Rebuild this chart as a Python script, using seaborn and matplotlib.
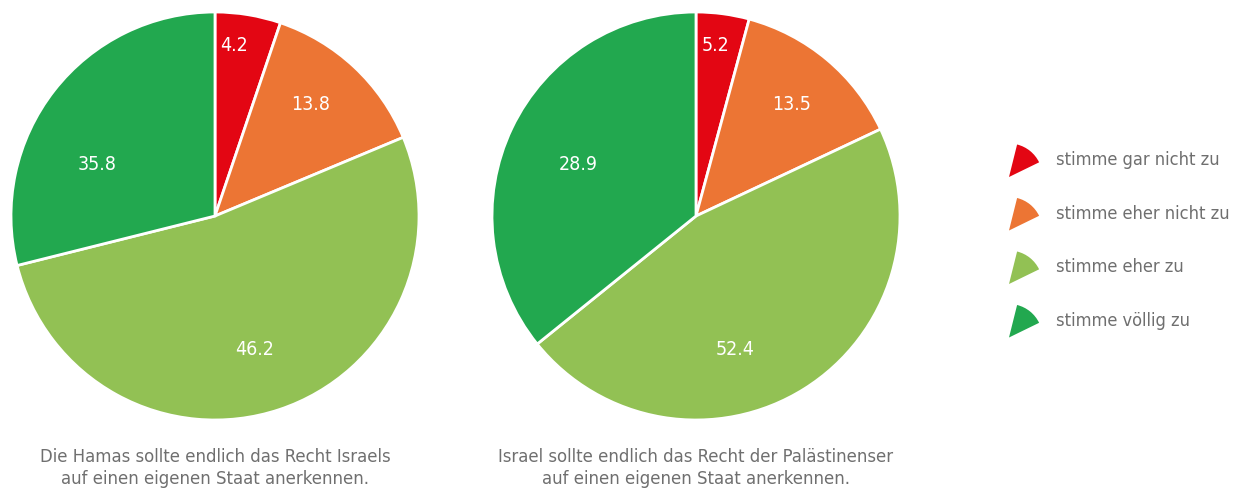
import numpy as np
import matplotlib
matplotlib.use("Agg")
import matplotlib.pyplot as plt
import seaborn as sns
from matplotlib.patches import Wedge

sns.set_theme(style="white")
plt.rcParams['font.family'] = ['DejaVu Sans']

categories = ["stimme gar nicht zu", "stimme eher nicht zu", "stimme eher zu", "stimme völlig zu"]
# printed labels
hamas_labels = [4.2, 13.8, 46.2, 35.8]
israel_labels = [5.2, 13.5, 52.4, 28.9]
# wedge sizes as drawn in the picture (the source chart's slices are swapped)
hamas_wedges = [5.2, 13.5, 52.4, 28.9]
israel_wedges = [4.2, 13.8, 46.2, 35.8]
titles = ["Die Hamas sollte endlich das Recht Israels\nauf einen eigenen Staat anerkennen.",
          "Israel sollte endlich das Recht der Palästinenser\nauf einen eigenen Staat anerkennen."]
colors = ["#E30613", "#EC7534", "#92C154", "#22A84F"]

# label placement (clockwise degrees from top, fraction of radius)
label_angle = [6.5, 40.8, 163.5, 293.5]
label_rad = [0.84, 0.72, 0.68, 0.63]

W, H = 1238, 490
fig = plt.figure(figsize=(W / 100, H / 100), dpi=100)
TXT = "#6f6f6f"

def draw(cx, cy, r, wedges_v, labels, title):
    ax = fig.add_axes([(cx - r) / W, (H - cy - r) / H, 2 * r / W, 2 * r / H])
    ax.pie(wedges_v, colors=colors, startangle=90, counterclock=False,
           wedgeprops=dict(edgecolor="white", linewidth=2), radius=1)
    for v, a, lr in zip(labels, label_angle, label_rad):
        t = np.deg2rad(90 - a)
        ax.text(lr * np.cos(t), lr * np.sin(t), f"{v}", color="white",
                ha="center", va="center", fontsize=14, fontstretch="condensed")
    ax.set_xlim(-1, 1); ax.set_ylim(-1, 1)
    ax.set_aspect("equal"); ax.axis("off")
    fig.text(cx / W, 1 - 468 / H, title, ha="center", va="center", color=TXT,
             fontsize=13.2, fontstretch="condensed", linespacing=1.25)

draw(215, 216, 204, hamas_wedges, hamas_labels, titles[0])
draw(696, 216, 204, israel_wedges, israel_labels, titles[1])

# legend
lax = fig.add_axes([0, 0, 1, 1])
lax.set_xlim(0, W); lax.set_ylim(H, 0); lax.axis("off")
for i, (c, lab) in enumerate(zip(colors, categories)):
    yc = 160 + i * 53.5
    lax.add_patch(Wedge((1009, yc + 17), 33.5, -76, -26, facecolor=c, edgecolor="none"))
    lax.text(1056, yc, lab, color=TXT, fontsize=13.1, va="center", ha="left",
             fontstretch="condensed")

fig.savefig("out.png", dpi=100, facecolor="white")
